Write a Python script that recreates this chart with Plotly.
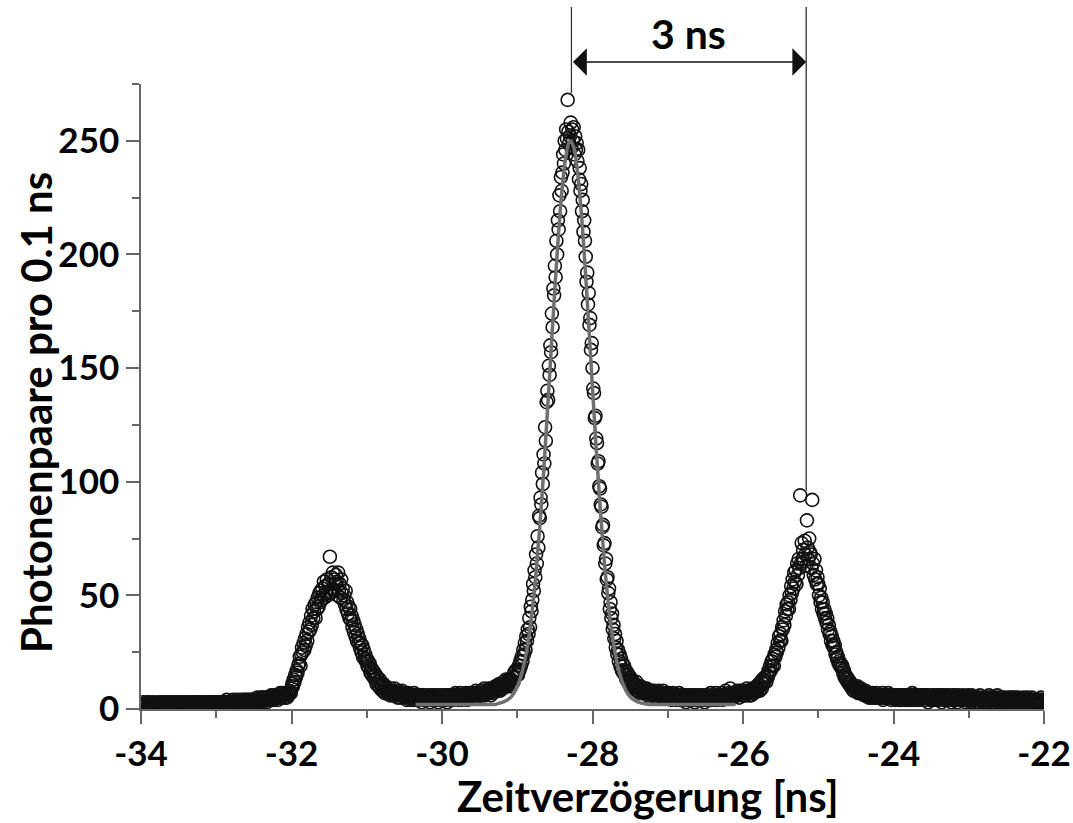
import numpy as np
import plotly.graph_objects as go

# ---------------- data (photon pairs per bin, bins of 0.01 ns) ----------------
bin_width = 0.01

flank_left_start = -34.00
flank_left = [
    2, 1, 2, 3, 1, 2, 0, 2, 3, 1,
    2, 3, 1, 2, 2, 1, 3, 2, 1, 2,
    1, 2, 3, 1, 2, 2, 3, 1, 2, 3,
    2, 1, 2, 3, 2, 1, 2, 3, 2, 1,
    3, 2, 1, 2, 3, 2, 2, 1, 3, 2,
    2, 3, 2, 1, 2, 3, 1, 2, 2, 3,
    1, 2, 3, 2, 2, 1, 3, 2, 3, 2,
    2, 3, 1, 2, 3, 2, 2, 3, 1, 2,
    3, 2, 2, 1, 3, 2, 3, 2, 2, 3,
    2, 3, 2, 3, 1, 2, 3, 2, 3, 2,
    3, 2, 3, 2, 2, 3, 1, 3, 2, 3,
    2, 3, 3, 2, 4, 2, 3, 2, 3, 3,
    3, 2, 4, 3, 2, 3, 3, 4, 2, 3,
    3, 4, 2, 3, 3, 4, 2, 3, 4, 3,
    4, 3, 3, 4, 2, 4, 3, 4, 3, 4,
    3, 4, 4, 3, 5, 3, 4, 4, 3, 5,
    4, 5, 3, 4, 5, 4, 5, 3, 5, 4,
    5, 4, 5, 6, 4, 5, 4, 6, 5, 5,
    5, 6, 4, 6, 5, 7, 5, 6, 7, 6,
    6, 5, 7, 6, 5, 7, 6, 7, 8, 7,
]

peak_left_start = -32.00
peak_left = [
    9, 11, 10, 13, 12, 15, 14, 17, 16, 19,
    20, 23, 19, 24, 27, 25, 29, 26, 31, 28,
    33, 30, 36, 34, 38, 35, 41, 37, 44, 40,
    43, 46, 40, 47, 44, 49, 45, 51, 47, 52,
    48, 53, 50, 56, 49, 54, 51, 57, 50, 55,
    55, 67, 51, 58, 53, 60, 52, 57, 55, 59,
    56, 50, 60, 52, 55, 49, 57, 51, 53, 48,
    50, 46, 52, 44, 47, 42, 45, 40, 44, 39,
    41, 36, 39, 34, 37, 32, 35, 30, 33, 29,
    31, 27, 29, 25, 28, 23, 26, 22, 24, 21,
    22, 19, 21, 18, 20, 16, 18, 15, 17, 14,
    16, 13, 15, 11, 14, 12, 10, 13, 9, 11,
    10, 8, 11, 9, 7, 10, 8, 9, 7, 8,
    8, 6, 9, 7, 8, 6, 7, 9, 6, 7,
]

valley_left_start = -30.60
valley_left = [
    7, 5, 8, 6, 7, 5, 6, 8, 6, 7,
    6, 5, 7, 4, 6, 7, 5, 6, 4, 6,
    5, 6, 4, 7, 5, 6, 4, 5, 6, 5,
    4, 6, 5, 3, 6, 5, 4, 6, 5, 4,
    5, 4, 6, 5, 3, 5, 6, 4, 5, 6,
    4, 5, 6, 4, 5, 3, 5, 6, 4, 5,
    5, 6, 4, 5, 6, 4, 5, 3, 6, 5,
    6, 4, 5, 6, 5, 4, 6, 5, 7, 5,
    5, 6, 4, 6, 7, 5, 6, 4, 6, 5,
    6, 5, 7, 6, 4, 6, 7, 5, 6, 7,
    7, 6, 5, 7, 6, 8, 5, 7, 6, 7,
    6, 8, 7, 6, 8, 7, 9, 6, 7, 8,
    8, 7, 9, 7, 8, 6, 9, 8, 7, 9,
    8, 10, 9, 8, 10, 9, 11, 8, 10, 9,
    11, 9, 12, 10, 11, 13, 10, 12, 11, 13,
]

peak_center_start = -29.10
peak_center = [
    12, 10, 13, 11, 14, 12, 16, 14, 17, 15,
    17, 15, 19, 17, 21, 19, 23, 21, 26, 24,
    29, 26, 32, 30, 35, 33, 40, 36, 45, 43,
    48, 55, 52, 61, 58, 68, 64, 76, 71, 85,
    84, 93, 90, 104, 99, 112, 108, 124, 118, 135,
    140, 136, 151, 147, 160, 157, 174, 168, 185, 182,
    195, 190, 206, 200, 215, 211, 226, 219, 234, 228,
    236, 244, 240, 250, 246, 255, 251, 268, 254, 249,
    252, 258, 247, 255, 250, 256, 244, 252, 246, 249,
    241, 246, 233, 238, 228, 231, 219, 224, 210, 215,
    206, 199, 188, 192, 178, 183, 169, 172, 158, 161,
    150, 141, 139, 128, 129, 119, 117, 108, 109, 98,
    97, 90, 89, 80, 81, 72, 73, 64, 66, 57,
    58, 51, 53, 44, 47, 40, 42, 35, 37, 31,
    33, 27, 30, 24, 26, 21, 24, 19, 22, 17,
    20, 16, 19, 15, 17, 13, 16, 12, 15, 13,
    14, 11, 13, 10, 12, 9, 11, 10, 12, 8,
    10, 8, 9, 7, 10, 8, 9, 7, 8, 9,
]

valley_right_start = -27.30
valley_right = [
    8, 7, 9, 6, 8, 7, 8, 6, 7, 8,
    7, 6, 8, 6, 7, 5, 7, 6, 8, 6,
    6, 7, 5, 6, 8, 5, 6, 7, 5, 6,
    5, 6, 7, 5, 6, 4, 6, 7, 5, 6,
    6, 4, 5, 6, 5, 7, 4, 5, 6, 5,
    5, 6, 4, 5, 3, 6, 5, 4, 6, 5,
    4, 5, 6, 4, 5, 6, 3, 5, 4, 6,
    5, 4, 6, 5, 4, 5, 6, 4, 5, 3,
    6, 5, 4, 5, 6, 4, 5, 7, 4, 5,
    5, 6, 4, 5, 7, 5, 4, 6, 5, 6,
    6, 5, 7, 4, 6, 5, 6, 8, 5, 6,
    5, 7, 6, 9, 5, 6, 7, 5, 6, 7,
    7, 6, 8, 6, 7, 5, 8, 7, 6, 8,
    7, 6, 8, 7, 6, 9, 7, 8, 6, 8,
]

peak_right_start = -25.90
peak_right = [
    8, 6, 9, 7, 8, 7, 9, 8, 10, 8,
    9, 11, 8, 10, 12, 9, 13, 11, 12, 14,
    13, 12, 15, 14, 17, 16, 19, 17, 21, 19,
    22, 19, 24, 23, 26, 25, 29, 27, 32, 30,
    33, 30, 36, 35, 39, 37, 43, 41, 46, 44,
    47, 44, 50, 48, 54, 51, 57, 53, 60, 56,
    61, 55, 64, 59, 66, 62, 94, 64, 73, 66,
    70, 65, 74, 68, 63, 83, 71, 66, 75, 69,
    68, 62, 92, 64, 59, 66, 57, 61, 55, 58,
    55, 50, 53, 47, 49, 44, 47, 42, 44, 40,
    42, 38, 40, 35, 37, 33, 34, 30, 32, 28,
    30, 27, 28, 24, 25, 22, 23, 20, 21, 19,
    20, 18, 19, 16, 17, 14, 15, 13, 14, 12,
    13, 11, 12, 10, 11, 9, 10, 8, 10, 9,
    9, 8, 10, 7, 9, 8, 7, 9, 8, 7,
    7, 6, 7, 8, 6, 7, 6, 5, 7, 6,
]

flank_right_start = -24.30
flank_right = [
    6, 5, 7, 5, 6, 5, 6, 7, 5, 6,
    5, 6, 5, 6, 5, 7, 4, 6, 5, 6,
    6, 5, 6, 7, 5, 6, 5, 4, 6, 5,
    5, 6, 5, 4, 6, 5, 6, 5, 4, 6,
    5, 4, 6, 5, 6, 4, 5, 6, 5, 4,
    5, 6, 4, 6, 5, 7, 5, 4, 6, 5,
    6, 4, 5, 6, 5, 4, 6, 5, 6, 5,
    5, 6, 4, 5, 6, 5, 3, 6, 5, 4,
    4, 5, 6, 5, 4, 6, 5, 4, 5, 6,
    5, 4, 6, 5, 3, 5, 6, 4, 5, 5,
    6, 5, 4, 5, 6, 4, 5, 3, 5, 6,
    4, 5, 6, 4, 5, 3, 5, 6, 4, 5,
    5, 4, 5, 6, 4, 5, 3, 5, 4, 6,
    4, 5, 3, 5, 6, 4, 5, 4, 3, 5,
    5, 4, 5, 3, 4, 6, 4, 5, 4, 3,
    4, 3, 5, 4, 5, 3, 4, 6, 4, 5,
    5, 4, 3, 5, 4, 3, 5, 4, 6, 3,
    3, 5, 4, 3, 5, 4, 3, 5, 4, 4,
    4, 3, 5, 4, 3, 4, 5, 3, 4, 5,
    3, 4, 5, 3, 4, 3, 5, 4, 3, 4,
    4, 3, 4, 5, 3, 4, 3, 4, 5, 3,
    3, 4, 3, 4, 5, 3, 4, 3, 4, 3,
    4, 3, 4, 3, 3, 4, 5, 3, 4, 3,
    3,
]

# fitted curve, sampled every 0.05 ns
fit_start = -30.35
fit_step = 0.05
fit_values = [
    2.0, 2.0, 2.0, 2.0, 2.0, 2.0, 2.0, 2.0, 2.0, 2.0, 2.0,
    2.0, 2.0, 2.0, 2.0, 2.0, 2.0, 2.0, 2.0, 2.0, 2.0, 2.0,
    2.5, 2.9, 3.6, 4.7, 6.7, 9.8, 14.5, 21.3, 30.8, 43.6,
    60.1, 80.3, 103.9, 130.2, 158.0, 185.1, 210.0, 230.2, 243.9, 250.0,
    247.3, 236.6, 218.8, 195.5, 169.0, 141.2, 114.2, 89.4, 67.7, 49.8,
    35.6, 24.8, 16.9, 11.5, 7.8, 5.4, 4.0, 3.1, 2.6, 2.3,
    2.0, 2.0, 2.0, 2.0, 2.0, 2.0, 2.0, 2.0, 2.0, 2.0, 2.0, 2.0,
    2.0, 2.0, 2.0, 2.0, 2.0, 2.0, 2.0, 2.0, 2.0, 2.0, 2.0, 2.0,
]

x_tick_vals = [-34, -32, -30, -28, -26, -24, -22]
x_tick_labels = ["-34", "-32", "-30", "-28", "-26", "-24", "-22"]
y_tick_vals = [0, 50, 100, 150, 200, 250]
y_tick_labels = ["0", "50", "100", "150", "200", "250"]

# marked peak positions (ns) and where the marker lines end (counts)
mark_positions = [-28.28, -25.16]
mark_line_bottoms = [271, 96]
mark_label = "3 ns"

x_range = [-34, -22]
y_range = [0, 275]

# ---------------- build ----------------
segments = [
    (flank_left_start, flank_left),
    (peak_left_start, peak_left),
    (valley_left_start, valley_left),
    (peak_center_start, peak_center),
    (valley_right_start, valley_right),
    (peak_right_start, peak_right),
    (flank_right_start, flank_right),
]
xs, ys = [], []
for start, vals in segments:
    xs.append(np.round(start + bin_width * np.arange(len(vals)), 3))
    ys.append(np.array(vals, dtype=float))
x_data = np.concatenate(xs)
y_data = np.concatenate(ys)

fit_x = np.round(fit_start + fit_step * np.arange(len(fit_values)), 3)

FONT = "Lato"
AXIS_COL = "#666666"

fig = go.Figure()
fig.add_trace(go.Scatter(
    x=x_data, y=y_data, mode="markers",
    marker=dict(symbol="circle-open", size=13, color="#111111", line=dict(width=1.6)),
    showlegend=False, hoverinfo="skip",
))
fig.add_trace(go.Scatter(
    x=fit_x, y=fit_values, mode="lines",
    line=dict(color="#707070", width=3.5, shape="spline"),
    showlegend=False, hoverinfo="skip",
))

L, R, T, B = 141, 29, 84, 114
W, H = 1073, 823
plot_h = H - T - B


def px_to_paper_y(py):
    return (H - B - py) / plot_h


def data_to_paper_y(v):
    return (v - y_range[0]) / (y_range[1] - y_range[0])


shapes = []
for xm, yb in zip(mark_positions, mark_line_bottoms):
    shapes.append(dict(
        type="line", xref="x", yref="paper",
        x0=xm, x1=xm, y0=data_to_paper_y(yb), y1=px_to_paper_y(7),
        line=dict(color="#333333", width=1.3),
    ))

arrow_y = px_to_paper_y(62)
TITLE_FONT = dict(family=FONT, size=42, color="#000000", weight="bold")
annotations = [
    dict(
        x=mark_positions[1], y=arrow_y, xref="x", yref="paper",
        ax=mark_positions[0], ay=0, axref="x", ayref="pixel",
        text=" ", font=dict(size=1), showarrow=True,
        arrowhead=1, arrowside="end+start", arrowsize=3.3, arrowwidth=1.4,
        arrowcolor="#111111",
    ),
    dict(
        x=(mark_positions[0] + mark_positions[1]) / 2, y=px_to_paper_y(33),
        xref="x", yref="paper", text=mark_label, showarrow=False,
        font=dict(family=FONT, size=41, color="#000000", weight="bold"),
        xanchor="center", yanchor="middle",
    ),
    dict(
        x=(648 - L) / (W - L - R), y=px_to_paper_y(796), xref="paper", yref="paper",
        text="Zeitverzögerung [ns]", showarrow=False,
        font=TITLE_FONT, xanchor="center", yanchor="middle",
    ),
    dict(
        x=(36 - L) / (W - L - R), y=px_to_paper_y(413), xref="paper", yref="paper",
        text="Photonenpaare pro 0.1 ns", showarrow=False, textangle=-90,
        font=TITLE_FONT, xanchor="center", yanchor="middle",
    ),
]

fig.update_layout(
    width=W, height=H,
    margin=dict(l=L, r=R, t=T, b=B, pad=0),
    paper_bgcolor="white", plot_bgcolor="white",
    shapes=shapes, annotations=annotations,
    showlegend=False,
)
TICK_FONT = dict(family=FONT, size=35, color="#000000", weight="bold")
fig.update_xaxes(
    range=x_range, tickmode="array", tickvals=x_tick_vals, ticktext=x_tick_labels,
    ticks="outside", ticklen=13, tickwidth=1.5, tickcolor=AXIS_COL,
    showline=True, linecolor=AXIS_COL, linewidth=1.5,
    showgrid=False, zeroline=False,
    minor=dict(dtick=1, tick0=-34, ticks="outside", ticklen=7, tickwidth=1.5,
               tickcolor=AXIS_COL, showgrid=False),
    tickfont=TICK_FONT,
    automargin=False,
)
fig.update_yaxes(
    range=y_range, tickmode="array", tickvals=y_tick_vals, ticktext=y_tick_labels,
    ticks="outside", ticklen=13, tickwidth=1.5, tickcolor=AXIS_COL,
    showline=True, linecolor=AXIS_COL, linewidth=1.5,
    showgrid=False, zeroline=False,
    minor=dict(dtick=25, tick0=0, ticks="outside", ticklen=7, tickwidth=1.5,
               tickcolor=AXIS_COL, showgrid=False),
    tickfont=TICK_FONT,
    automargin=False,
)

fig.write_html("out.html")
